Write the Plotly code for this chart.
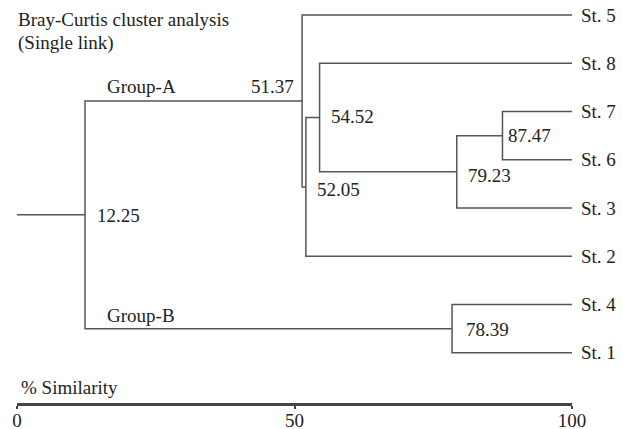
import plotly.graph_objects as go

# ---------------- data ----------------
leaf_labels = ["St. 5", "St. 8", "St. 7", "St. 6", "St. 3", "St. 2", "St. 4", "St. 1"]
node_names = ["N1", "N2", "N3", "N4", "N5", "N6", "N7"]
merge_left = ["St. 7", "N1", "St. 8", "N3", "St. 5", "St. 4", "N5"]
merge_right = ["St. 6", "St. 3", "N2", "St. 2", "N4", "St. 1", "N6"]
merge_similarity = [87.47, 79.23, 54.52, 52.05, 51.37, 78.39, 12.25]
group_labels = {"N5": "Group-A", "N6": "Group-B"}
axis_ticks = [0, 50, 100]
axis_title = "% Similarity"
chart_title = ["Bray-Curtis cluster analysis", "(Single link)"]

# ---------------- styling ----------------
FONT = "Liberation Serif"
FS = 19
TXT = "#222222"
LINE = "#555555"
# per-node label offsets (pixels): xshift, yshift, xanchor
node_label_style = {
    "N1": (4, 0, "left"),
    "N2": (9, -4, "left"),
    "N3": (9, 1, "left"),
    "N4": (9, -3, "left"),
    "N5": (-6, 14, "right"),
    "N6": (12, -1, "left"),
    "N7": (10, -1, "left"),
}
group_label_style = {"N5": (20, 14), "N6": (20, 13)}

# ---------------- build dendrogram geometry ----------------
pos = {name: (100.0, float(i)) for i, name in enumerate(leaf_labels)}
xs, ys = [], []
for name, l, r, s in zip(node_names, merge_left, merge_right, merge_similarity):
    lx, ly = pos[l]
    rx, ry = pos[r]
    xs += [lx, s, s, rx, None]
    ys += [ly, ly, ry, ry, None]
    pos[name] = (s, (ly + ry) / 2.0)
root = node_names[-1]
xs += [0, pos[root][0], None]
ys += [pos[root][1], pos[root][1], None]

fig = go.Figure()
fig.add_trace(go.Scatter(x=xs, y=ys, mode="lines",
                         line=dict(color=LINE, width=1.5),
                         hoverinfo="skip", showlegend=False))

ann = []
fnt = dict(family=FONT, size=FS, color=TXT)
for i, name in enumerate(leaf_labels):
    ann.append(dict(x=100, y=i, xref="x", yref="y", text=name, showarrow=False,
                    xanchor="left", yanchor="middle", xshift=7, font=fnt))
for name, s in zip(node_names, merge_similarity):
    dx, dy, xa = node_label_style[name]
    ann.append(dict(x=s, y=pos[name][1], xref="x", yref="y", text=f"{s:.2f}",
                    showarrow=False, xanchor=xa, yanchor="middle",
                    xshift=dx, yshift=dy, font=fnt))
root_x = pos[root][0]
for name, label in group_labels.items():
    dx, dy = group_label_style[name]
    ann.append(dict(x=root_x, y=pos[name][1], xref="x", yref="y", text=label,
                    showarrow=False, xanchor="left", yanchor="middle",
                    xshift=dx, yshift=dy, font=fnt))

def row(px):
    return (px - 15) / 48.25

for txt, px in zip(chart_title, [19, 43]):
    ann.append(dict(x=0, y=row(px), xref="x", yref="y", text=txt, showarrow=False,
                    xanchor="left", yanchor="middle", xshift=-1, font=fnt))
ann.append(dict(x=0, y=row(387), xref="x", yref="y", text=axis_title, showarrow=False,
                xanchor="left", yanchor="middle", xshift=2, font=fnt))

fig.update_layout(
    width=623, height=429,
    margin=dict(l=17, r=51, t=0, b=26, pad=0),
    paper_bgcolor="white", plot_bgcolor="white",
    font=dict(family=FONT, size=FS, color=TXT),
    annotations=ann,
    xaxis=dict(range=[0, 100], showgrid=False, zeroline=False, showline=True,
               linecolor="#444444", linewidth=2.5, ticks="outside", ticklen=3,
               tickwidth=2, tickcolor="#444444", tickvals=axis_ticks,
               ticklabelstandoff=-5,
               tickfont=dict(family=FONT, size=FS, color=TXT), automargin=False,
               fixedrange=True),
    yaxis=dict(range=[row(403), row(0)], visible=False, fixedrange=True,
               automargin=False),
)

fig.write_html("out.html", config={"displayModeBar": False},
               post_script="document.body.style.margin='0';document.body.style.overflow='hidden';")
